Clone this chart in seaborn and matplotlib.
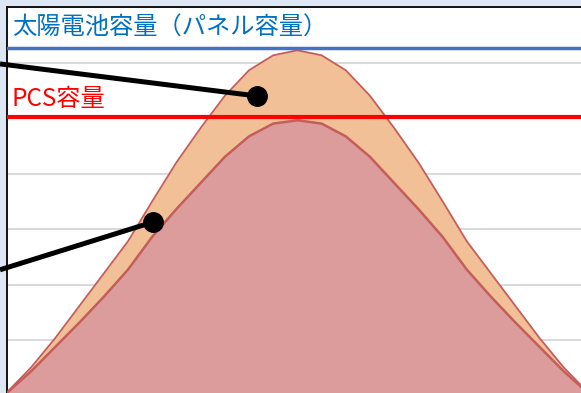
import numpy as np
import pandas as pd
import matplotlib
matplotlib.use("Agg")
import matplotlib.pyplot as plt
import seaborn as sns

# Half-hour time slots over the day (6:00 - 18:00)
hours = np.arange(6.0, 18.01, 0.5)

# Generation potential of the panels and the actual (PCS-limited) output
panel_output = [0.06, 0.51, 1.04, 1.62, 2.20, 2.78, 3.50, 4.20, 4.82, 5.40, 5.86, 6.13, 6.22,
                6.13, 5.86, 5.40, 4.82, 4.20, 3.50, 2.78, 2.20, 1.62, 1.04, 0.51, 0.06]
pcs_output = [0.05, 0.44, 0.88, 1.32, 1.78, 2.27, 2.86, 3.36, 3.83, 4.30, 4.67, 4.90, 4.96,
              4.90, 4.67, 4.30, 3.83, 3.36, 2.86, 2.27, 1.78, 1.32, 0.88, 0.44, 0.05]

# Capacity levels
panel_capacity = 6.26
pcs_capacity = 5.02

panel_label = "太陽電池容量（パネル容量）"
pcs_label = "PCS容量"

df = pd.DataFrame({"hour": hours, "panel": panel_output, "pcs": pcs_output})

sns.set_theme(style="white")
plt.rcParams["font.family"] = ["Noto Sans CJK JP", "DejaVu Sans"]

W, H = 581, 393
fig = plt.figure(figsize=(W / 100, H / 100), dpi=100, facecolor="#dde7f3")

# plot area starts a few pixels in and runs past the right / bottom edge
slot_px = 24.2
ax = fig.add_axes([7 / W, -2.6 / H, (24 * slot_px) / W, (395.6 - 7) / H])
ax.set_facecolor("white")
ax.set_xlim(6, 18)
ax.set_ylim(0, 7)

ax.set_yticks(range(0, 8))
ax.yaxis.grid(True, color="#d9d9d9", lw=1.4, zorder=0)
ax.xaxis.grid(False)
ax.set_axisbelow(True)
ax.tick_params(length=0, labelleft=False, labelbottom=False)

for side in ("right", "bottom"):
    ax.spines[side].set_visible(False)
for side in ("left", "top"):
    ax.spines[side].set_color("black")
    ax.spines[side].set_linewidth(1.3)

edge = "#c35e5b"
ax.fill_between(df["hour"], df["panel"], 0, color="#f2c096", lw=0, zorder=2)
sns.lineplot(data=df, x="hour", y="panel", ax=ax, color=edge, lw=1.3, zorder=3)
ax.fill_between(df["hour"], df["pcs"], 0, color="#dc9c9c", lw=0, zorder=4)
sns.lineplot(data=df, x="hour", y="pcs", ax=ax, color=edge, lw=1.8, zorder=5)
ax.set_xlabel("")
ax.set_ylabel("")

ax.axhline(panel_capacity, color="#4472c4", lw=2.5, zorder=6)
ax.axhline(pcs_capacity, color="#ff0000", lw=3.0, zorder=6)

ax.text(6.1, 6.63, panel_label, color="#0070c0", fontsize=17.5,
        va="center", ha="left", zorder=7)
ax.text(6.1, 5.35, pcs_label, color="#ff0000", fontsize=17.5,
        va="center", ha="left", zorder=7)

# callout leaders pointing at the two areas
def to_data(px, py):
    return 6 + (px - 7) / slot_px * 0.5, (395.6 - py) / 55.6

for (x0, y0), (x1, y1) in [((0, 63.4), (256.7, 95.5)), ((0, 269.6), (153.3, 221.7))]:
    a = to_data(x0, y0)
    b = to_data(x1, y1)
    ax.plot([a[0], b[0]], [a[1], b[1]], color="black", lw=3.6,
            solid_capstyle="butt", clip_on=False, zorder=8)
    ax.plot([b[0]], [b[1]], "o", color="black", ms=14, clip_on=False, zorder=9)

fig.savefig("out.png", dpi=100, facecolor=fig.get_facecolor())
